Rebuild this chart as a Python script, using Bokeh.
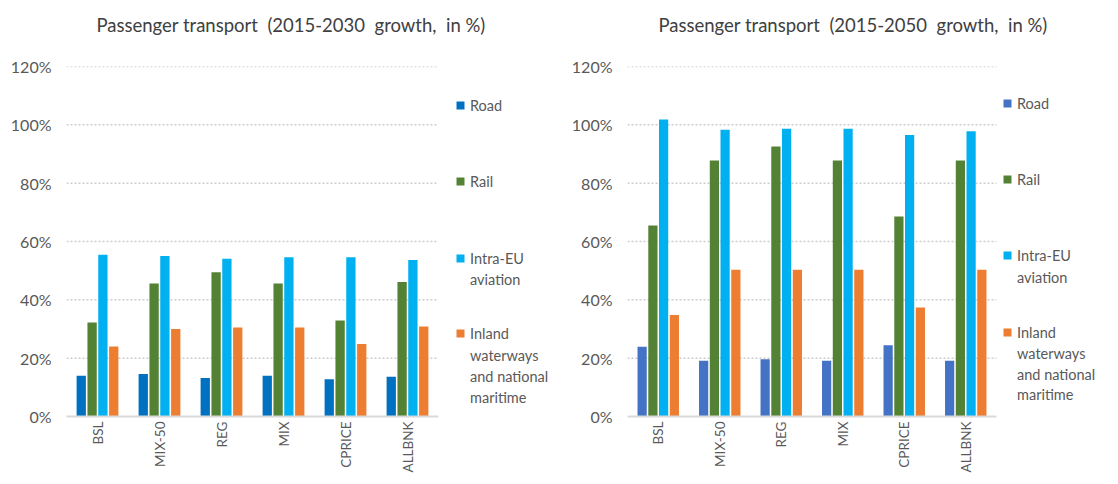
import math
import numpy as np
from bokeh.plotting import figure
from bokeh.layouts import row
from bokeh.models import Range1d, FixedTicker, Legend, LegendItem, ColumnDataSource, Title
from bokeh.embed import file_html
from bokeh.resources import INLINE

# ---------------- data ----------------
scenarios = ["BSL", "MIX-50", "REG", "MIX", "CPRICE", "ALLBNK"]
series_names = ["Road", "Rail", "Intra-EU", "Inland"]
series_name_more = [[], [], ["aviation"], ["waterways", "and national", "maritime"]]

road_2030 = [14.0, 14.6, 13.2, 14.0, 12.8, 13.6]
rail_2030 = [32.2, 45.6, 49.5, 45.6, 32.9, 46.1]
aviation_2030 = [55.5, 55.0, 54.1, 54.6, 54.6, 53.7]
inland_2030 = [24.0, 30.0, 30.5, 30.5, 24.9, 30.9]

road_2050 = [23.9, 19.1, 19.6, 19.1, 24.4, 19.1]
rail_2050 = [65.5, 87.8, 92.6, 87.8, 68.6, 87.8]
aviation_2050 = [101.8, 98.3, 98.7, 98.7, 96.5, 97.8]
inland_2050 = [34.8, 50.3, 50.3, 50.3, 37.4, 50.3]

y_ticks = [0, 20, 40, 60, 80, 100, 120]
y_tick_labels = ["0%", "20%", "40%", "60%", "80%", "100%", "120%"]

title_2030 = "Passenger transport\u00a0 (2015-2030\u00a0 growth,\u00a0 in %)"
title_2050 = "Passenger transport\u00a0 (2015-2050\u00a0 growth,\u00a0 in %)"

colors_2030 = ["#0070C0", "#548235", "#00B0F0", "#ED7D31"]
colors_2050 = ["#4472C4", "#548235", "#00B0F0", "#ED7D31"]

FONT = "Lato"
TXT = "#595959"
H = 476
TOP = 66
BOTTOM = 60
B = H - BOTTOM


def make_chart(title, series, colors, width, bl, data_px, title_offset,
               legend_x, legend_centers, legend_font):
    n = len(scenarios)
    frame_w = width - bl
    xc = np.arange(n) + 0.5
    p = figure(x_range=Range1d(0, n * frame_w / data_px), y_range=Range1d(0, 120),
               width=width, height=H, output_backend="svg",
               toolbar_location=None,
               min_border_left=bl, min_border_right=0,
               min_border_top=TOP, min_border_bottom=BOTTOM)
    p.outline_line_color = None
    p.background_fill_color = "white"
    p.border_fill_color = "white"

    # spacer between title and plot area, then the title itself
    p.add_layout(Title(text="\u00a0", text_font_size="8px", standoff=20), "above")
    p.add_layout(Title(text=title, align="left", offset=title_offset, standoff=0,
                       text_font=FONT, text_font_size="18.5px",
                       text_font_style="normal", text_color="#404040"), "above")

    # dotted horizontal gridlines over the category area only
    p.segment(x0=0, x1=n, y0=y_ticks[1:], y1=y_ticks[1:], line_color="#CCCCCC",
              line_width=1.5, line_dash="2 2", level="underlay")

    offsets = [-0.262, -0.087, 0.087, 0.262]
    renderers = []
    for i in range(4):
        r = p.vbar(x=xc + offsets[i], top=series[i], width=0.15,
                   fill_color=colors[i], line_color=None)
        renderers.append(r)

    p.xgrid.visible = False
    p.ygrid.visible = False

    p.yaxis.ticker = FixedTicker(ticks=y_ticks)
    p.yaxis.major_label_overrides = {t: l for t, l in zip(y_ticks, y_tick_labels)}
    p.yaxis.axis_line_color = None
    p.yaxis.major_tick_line_color = None
    p.yaxis.minor_tick_line_color = None
    p.yaxis.major_tick_out = 0
    p.yaxis.major_tick_in = 0
    p.yaxis.major_label_standoff = 15
    p.yaxis.major_label_text_font = FONT
    p.yaxis.major_label_text_font_size = "16px"
    p.yaxis.major_label_text_color = TXT

    p.xaxis.ticker = FixedTicker(ticks=list(xc))
    p.xaxis.major_label_overrides = {float(x): s for x, s in zip(xc, scenarios)}
    p.xaxis.bounds = (0, n)
    p.xaxis.axis_line_color = "#D9D9D9"
    p.xaxis.axis_line_width = 2
    p.xaxis.major_tick_line_color = None
    p.xaxis.minor_tick_line_color = None
    p.xaxis.major_tick_out = 0
    p.xaxis.major_tick_in = 0
    p.xaxis.major_label_orientation = math.pi / 2
    p.xaxis.major_label_standoff = 5
    p.xaxis.major_label_text_font = FONT
    p.xaxis.major_label_text_font_size = "13.5px"
    p.xaxis.major_label_text_color = TXT

    # legend: one single-line legend per text line, placed beside the bars
    blank = p.vbar(x=[-10], top=[1], width=0.5, fill_alpha=0, line_color=None)

    def add(label, rend, center):
        leg = Legend(items=[LegendItem(label=label, renderers=[rend])],
                     location=(legend_x, B - center - 10.5),
                     glyph_width=10, glyph_height=10, label_standoff=5,
                     label_height=21, padding=0, margin=0, spacing=0,
                     border_line_color=None, background_fill_alpha=0,
                     label_text_font=FONT, label_text_font_size=legend_font,
                     label_text_color=TXT)
        p.add_layout(leg, "center")

    for i in range(4):
        add(series_names[i], renderers[i], legend_centers[i][0])
        for k, extra in enumerate(series_name_more[i]):
            add(extra, blank, legend_centers[i][k + 1])
    return p


legend_centers_2030 = [[105], [181], [258, 279], [333, 355, 376, 397]]
legend_centers_2050 = [[103], [179], [255, 277], [332, 353, 374, 394]]

p1 = make_chart(title_2030, [road_2030, rail_2030, aviation_2030, inland_2030],
                colors_2030, 556, 66, 372, 30, 389, legend_centers_2030, "14.5px")
p2 = make_chart(title_2050, [road_2050, rail_2050, aviation_2050, inland_2050],
                colors_2050, 546, 71, 369, 31, 375, legend_centers_2050, "14.5px")

layout = row(p1, p2)
open("out.html", "w").write(file_html(layout, INLINE))
